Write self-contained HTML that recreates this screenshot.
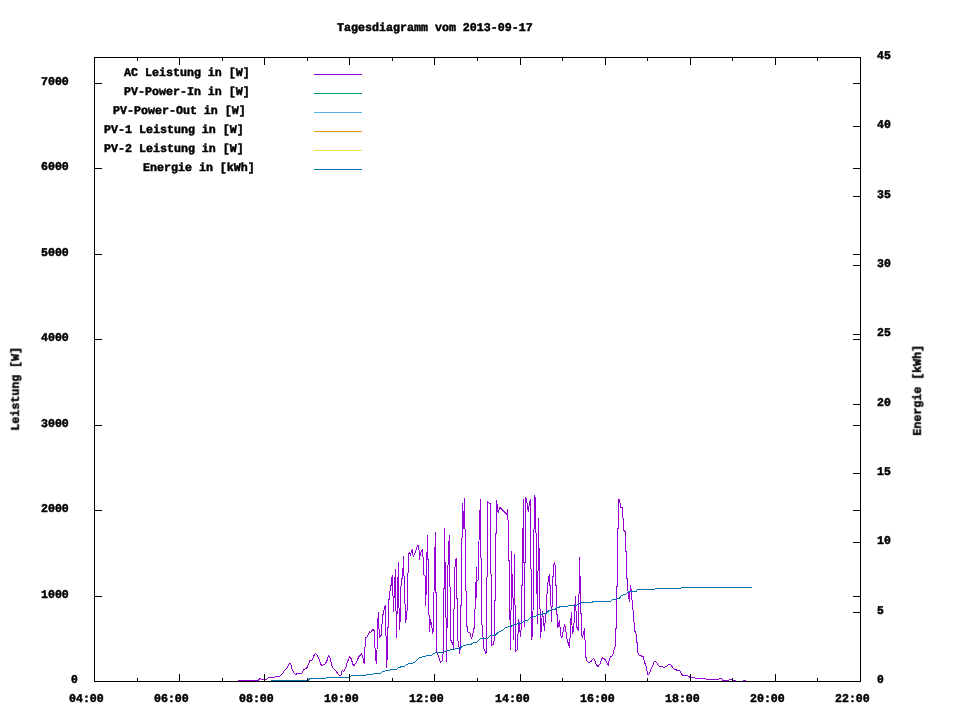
<!DOCTYPE html>
<html lang="de"><head><meta charset="utf-8"><title>Tagesdiagramm vom 2013-09-17</title>
<style>html,body{margin:0;padding:0;background:#fff;}body{width:960px;height:720px;overflow:hidden;}svg{display:block;}text{font-family:"Liberation Mono","DejaVu Sans Mono",monospace;font-weight:bold;font-size:11.8px;fill:#000;stroke:#000;stroke-width:0.5px;stroke-linejoin:round;white-space:pre;text-rendering:geometricPrecision;}.ax{stroke:#000;stroke-width:1;fill:none;shape-rendering:crispEdges;}.ln{fill:none;stroke-width:1;stroke-linejoin:bevel;shape-rendering:crispEdges;}</style></head><body>
<svg width="960" height="720" viewBox="0 0 960 720">
<rect x="0" y="0" width="960" height="720" fill="#fff"/>
<path class="ln" stroke="#9400d3" d="M238,680.5 258,680.5 260.4,678.3 261.3,679.5 266.5,679.5 268.5,677.5 274.5,677.4 275.5,676.5 279.8,676.5 282.5,673.8 284.2,670.7 286.7,668.3 289.3,663.5 290.5,663.5 292.1,669.2 294.6,673.8 295.8,674.6 297.3,673.4 301.7,673.3 302.1,672.9 303.75,669.6 306.7,668.2 308.3,664.6 309.6,661 312.1,660 314.2,655 315.4,653.5 316.7,654.6 318.75,658.3 320.8,664.2 321.8,665.4 324.6,664.2 326.7,661.7 328.3,655.7 329.6,656.7 330.8,660.8 332.1,666.7 335.8,670.8 338.75,674.8 340,675.7 341.25,674.6 342.1,670.8 343.75,671.25 345.4,668.75 347.5,661.7 349.6,656.5 351.25,658.75 352.9,664.6 354,665.7 356.25,662.5 358.75,656.7 361.5,653.75 362.5,655.8 363.75,661.7 364.3,664.4 364.8,651.7 365.4,638.3 367.5,636.25 369.4,631.9 371.25,632.1 372.5,629.4 374.2,630.5 374.6,646 375.7,650.8 376.1,664.4 377,650.5 377.5,625.2 378.5,612 378.75,625 379.6,637.5 381.5,635 381.8,628 382.5,615.4 383.75,613.3 384.2,608.5 385.5,605 385.5,635.4 386.6,636.25 386.5,667.5 387.5,653.3 387.5,628 388.75,627.5 388.75,610 389.2,592.5 390,591.7 390.4,585.8 391.25,585.4 391.5,579 392.5,575 393.4,611.5 395.4,569 396.4,637.5 398.4,562 399.3,629.6 400.6,616 400.8,591 401.3,579 402.5,578.3 402.5,568.3 403.3,567.5 403.4,556.25 404.6,595 405.8,622.5 407.5,605.8 407.7,573.3 408.3,572.5 408.5,554.2 409.4,552.4 410.4,555.4 412.3,549.3 413.3,556.7 414.6,553.75 415.8,550.4 417.1,547 418.3,545.2 419.2,551.7 419.6,559.6 420.4,553 422.3,549.3 422.9,556.8 423.75,557.5 424,575 425,575.8 425.9,606 426.4,559 426.5,553.3 427.5,552 427.5,535 427.6,559 428.5,559.5 428.6,600 429.5,631.7 430.5,619.3 431.7,625 432.5,633.5 433.5,630 433.75,603.75 434.75,556 435.4,532 436,592.5 436.4,651.4 437.7,654 440.6,662.7 442.25,660.6 443.1,652.7 443.4,600 443.5,589 444.4,588 444.4,527.8 444.5,562 445.5,562.5 445.5,617.7 446.4,618.5 446.4,661.8 446.6,628 447.5,627 447.5,565.5 448.5,564.4 448.75,545 449.5,534.9 449.6,586.7 450.6,587.5 450.6,639.75 451.8,642 453,645 453.5,649 453.5,609.5 454.5,608 454.5,567.5 455.4,566.9 455.6,561 456.3,558 456.5,598 457.5,598.5 457.5,640 458.5,642 459.6,653.5 460.4,647 460.6,606 461.4,605 461.5,538.5 462.4,537.5 462.5,502.8 463.5,528.7 464.4,498 464.6,528.5 465.6,529.5 465.6,590.8 466.6,591.5 466.6,626.4 467.7,627 467.7,632 469.75,632.7 470.6,635 471.4,638.5 472.7,635 473.5,629.3 474.5,628 474.5,609.3 475.6,608.5 475.6,582.5 476.4,581 476.5,567 476.6,598.3 476.7,581.5 477.6,580.5 478.4,579 478.6,541.2 479.5,540.5 479.6,510.5 480.5,509.5 480.6,499 480.7,557.5 481.6,558.5 481.5,624.75 482.5,625.5 483.1,639.3 483.5,648.5 485,651 486,653.5 486.4,650 486.5,577.5 487.4,576.5 487.5,501 488.75,503 490.6,503.25 490.6,573.75 491.6,574.5 491.6,645.6 493.5,644 494.3,639.3 494.6,601 495.5,600.5 495.4,533.75 496.5,533 496.5,500 498.1,513 500,507.5 506.9,514.4 507.5,509.4 507.75,520 508.75,520.6 508.75,560.4 509.6,560.5 509.6,619.6 510.4,620 510.4,649.6 510.6,620 511.4,600 511.4,551.25 511.6,574 512.4,575 512.5,597.5 513.4,598.5 513.4,640.4 513.6,603 514.4,602 514.5,553.75 514.6,600 515.5,610 515.5,651.7 517.5,649.6 517.6,634 518.5,633.75 518.5,619.2 519.5,625 520.4,636.7 521.5,625 521.7,586 522.5,585 522.5,529 523.4,528 523.4,499 523.6,562 524.4,563 524.5,626.7 524.6,563 525.4,562 525.4,497 526.5,499 527.5,506 528.3,511.7 529.4,503 530.4,499 530.5,568.5 531.4,569.5 531.6,597 531.7,639.6 532.5,634 533.3,597 533.5,529.5 534.5,528.5 534.5,495 535.5,499.5 535.5,532 536.3,533.5 536.5,593 537.4,594 537.5,624.2 537.6,571.5 538.4,570.5 538.5,518.3 538.6,548 539.4,549 539.5,607.5 540.6,610 540.6,637.5 542.5,610.8 544.5,631.25 545.4,616 546.5,610 546.7,594 547.6,593.75 547.7,582 548.6,581.7 548.75,577 549.5,574.2 549.8,585.4 550.7,585.8 550.9,602.5 551.5,621.7 552.2,601.7 552.4,577 553.3,576.7 553.5,567 554.5,562 555.4,566.7 555.6,585 556.5,585.4 556.7,614 557.5,615 557.7,628.3 559.6,620 560.4,633.75 561.7,638.3 564.6,624.2 565.8,630 566.7,638.3 569.6,647.5 569.6,638.3 570.7,637.9 570.7,621.7 571.6,612 571.9,623.3 572.5,634.2 573.75,628.3 574.6,611.7 575.4,596.25 575.6,610.8 576.6,611.25 576.7,626.7 578.3,630.6 578.5,594.5 579.4,593.5 579.4,557 579.6,575.5 580.4,576.5 580.5,613.75 581.5,613.75 581.5,634 582.5,637.5 583.75,631.7 584.6,628.3 584.8,640 585.6,640.4 585.6,655.8 586.7,660.4 588.75,662.5 591.25,661.25 593.5,658.3 595,661.25 596.25,665 597.9,666.5 600,663.75 601.25,660.4 602.5,657.3 605,659.6 607.1,662.9 608.3,665.4 609.2,659.6 610.4,657 612.3,655.8 613.3,653.75 614.2,649.2 615.4,645.4 615.7,629 616.5,628 616.5,587 617.5,586.7 617.5,528.75 618.4,528.5 618.4,500 619.6,499 620,503 620.8,503.5 620.8,507.3 622.5,507.5 622.7,518 623.5,518.3 623.75,530 624.6,531.7 625.6,532 625.6,551.7 626.5,551.7 626.5,578.75 627.5,578.75 627.5,590.8 628.3,591.25 628.75,597.5 629.5,601.7 630.4,585.4 631.25,590.4 631.5,599.6 632.5,600.4 633,610 634,621.7 635,631.7 635.8,632.5 636.7,639.2 637.5,647.5 637.9,652.5 639.2,655 643.3,656.8 644.6,662.5 646.25,666.7 647.5,674.2 649.2,674.2 650.8,669.2 652.9,665 654.3,661.5 656.7,662.3 658.3,665.4 659.6,666.4 662.5,666.4 664,667.5 666.25,666.4 668.75,664.3 670.8,664.3 672.1,666.7 674.2,669.2 677.1,670.2 680,670.6 680.8,672.5 682.5,675.4 687.5,675.4 690,677.5 694.6,677.5 695.8,678.4 705.4,678.4 706.7,679.4 718.75,679.4 719.6,678.4 721.7,678.4 722.9,680.4 728.75,680.4 729.6,679.4 732,679.4 733,680.4 735.8,680.4 736.5,681.5 742.8,681.5 743.3,680.4 745.8,680.4 746.5,681.5 752,681.5"/>
<path class="ln" stroke="#0072b2" d="M271,680.5 308.3,680.5 310,678.5 325.8,678.5 326.7,677.5 349.6,677.5 351.25,675.5 365.4,675.5 366.7,674.5 372.5,674.4 373.75,673.4 380.8,673.3 382.5,671.3 386.7,670.7 392,669.6 396.7,669.2 398.75,667.3 405,666.25 406.7,664.2 413.3,662.9 415.4,661.7 417.5,659.2 420,657.3 424.2,656.6 428.3,655.5 432.1,655 433.75,653.3 436.7,652.5 444.2,652.1 446.4,650.6 453.5,649.3 460.2,648.3 463.5,645.3 471,644.3 473.5,642.7 476.8,642.25 480.2,638.9 487.7,638.1 490.6,635.6 495.2,635.2 497.7,632.7 502.7,630.3 505.6,627.5 511,626.4 513.9,624.5 520.8,623.3 524.2,621.25 527.5,620.4 530.8,617.3 535.8,616.25 538.3,614.6 546.25,613.3 549.2,610.4 555.4,609.2 557.1,607.5 563.3,606.25 571.7,605.8 576.7,605.2 578.75,603.3 581.7,602.6 592.5,602.2 593.3,601.3 610.8,601.3 612.5,599.5 619.2,598.6 621.25,595.6 625,594.5 626.25,594 627.5,592.2 630.8,591.5 636.25,591.5 637.3,589.5 654.6,589.5 655.7,588.5 680.4,588.5 681.7,587.5 752,587.5"/>
<path class="ax" d="M94.5 57.5H860.5V681.5H94.5ZM94 596.5h8M861 596.5h-8M94 510.5h8M861 510.5h-8M94 425.5h8M861 425.5h-8M94 339.5h8M861 339.5h-8M94 254.5h8M861 254.5h-8M94 168.5h8M861 168.5h-8M94 83.5h8M861 83.5h-8M861 612.5h-8M861 542.5h-8M861 473.5h-8M861 404.5h-8M861 334.5h-8M861 265.5h-8M861 196.5h-8M861 126.5h-8M137.5 682v-4M137.5 57v4M179.5 682v-8M179.5 57v8M222.5 682v-4M222.5 57v4M264.5 682v-8M264.5 57v8M307.5 682v-4M307.5 57v4M349.5 682v-8M349.5 57v8M392.5 682v-4M392.5 57v4M434.5 682v-8M434.5 57v8M477.5 682v-4M477.5 57v4M520.5 682v-8M520.5 57v8M562.5 682v-4M562.5 57v4M605.5 682v-8M605.5 57v8M647.5 682v-4M647.5 57v4M690.5 682v-8M690.5 57v8M732.5 682v-4M732.5 57v4M775.5 682v-8M775.5 57v8M817.5 682v-4M817.5 57v4"/>
<g opacity="0.999">
<text x="337" y="31" textLength="195.8" lengthAdjust="spacingAndGlyphs">Tagesdiagramm vom 2013-09-17</text>
<text x="71" y="683" textLength="6.8" lengthAdjust="spacingAndGlyphs">0</text>
<text x="41" y="598" textLength="27.8" lengthAdjust="spacingAndGlyphs">1000</text>
<text x="41" y="512" textLength="27.8" lengthAdjust="spacingAndGlyphs">2000</text>
<text x="41" y="427" textLength="27.8" lengthAdjust="spacingAndGlyphs">3000</text>
<text x="41" y="341" textLength="27.8" lengthAdjust="spacingAndGlyphs">4000</text>
<text x="41" y="256" textLength="27.8" lengthAdjust="spacingAndGlyphs">5000</text>
<text x="41" y="170" textLength="27.8" lengthAdjust="spacingAndGlyphs">6000</text>
<text x="41" y="85" textLength="27.8" lengthAdjust="spacingAndGlyphs">7000</text>
<text x="877" y="683" textLength="6.8" lengthAdjust="spacingAndGlyphs">0</text>
<text x="877" y="614" textLength="6.8" lengthAdjust="spacingAndGlyphs">5</text>
<text x="877" y="544" textLength="13.8" lengthAdjust="spacingAndGlyphs">10</text>
<text x="877" y="475" textLength="13.8" lengthAdjust="spacingAndGlyphs">15</text>
<text x="877" y="406" textLength="13.8" lengthAdjust="spacingAndGlyphs">20</text>
<text x="877" y="336" textLength="13.8" lengthAdjust="spacingAndGlyphs">25</text>
<text x="877" y="267" textLength="13.8" lengthAdjust="spacingAndGlyphs">30</text>
<text x="877" y="198" textLength="13.8" lengthAdjust="spacingAndGlyphs">35</text>
<text x="877" y="128" textLength="13.8" lengthAdjust="spacingAndGlyphs">40</text>
<text x="877" y="59" textLength="13.8" lengthAdjust="spacingAndGlyphs">45</text>
<text x="69" y="702" textLength="34.8" lengthAdjust="spacingAndGlyphs">04:00</text>
<text x="154" y="702" textLength="34.8" lengthAdjust="spacingAndGlyphs">06:00</text>
<text x="239" y="702" textLength="34.8" lengthAdjust="spacingAndGlyphs">08:00</text>
<text x="324" y="702" textLength="34.8" lengthAdjust="spacingAndGlyphs">10:00</text>
<text x="409" y="702" textLength="34.8" lengthAdjust="spacingAndGlyphs">12:00</text>
<text x="495" y="702" textLength="34.8" lengthAdjust="spacingAndGlyphs">14:00</text>
<text x="580" y="702" textLength="34.8" lengthAdjust="spacingAndGlyphs">16:00</text>
<text x="665" y="702" textLength="34.8" lengthAdjust="spacingAndGlyphs">18:00</text>
<text x="750" y="702" textLength="34.8" lengthAdjust="spacingAndGlyphs">20:00</text>
<text x="835" y="702" textLength="34.8" lengthAdjust="spacingAndGlyphs">22:00</text>
<text x="18.5" y="430.7" textLength="83.8" lengthAdjust="spacingAndGlyphs" transform="rotate(-90 18.5 430.7)">Leistung [W]</text>
<text x="920.5" y="435.7" textLength="90.8" lengthAdjust="spacingAndGlyphs" transform="rotate(-90 920.5 435.7)">Energie [kWh]</text>
<text x="124" y="76" textLength="125.8" lengthAdjust="spacingAndGlyphs">AC Leistung in [W]</text>
<path class="ln" style="shape-rendering:crispEdges" stroke="#9400d3" d="M314 74.5H362"/>
<text x="124" y="95" textLength="125.8" lengthAdjust="spacingAndGlyphs">PV-Power-In in [W]</text>
<path class="ln" style="shape-rendering:crispEdges" stroke="#009e73" d="M314 93.5H362"/>
<text x="113" y="114" textLength="132.8" lengthAdjust="spacingAndGlyphs">PV-Power-Out in [W]</text>
<path class="ln" style="shape-rendering:crispEdges" stroke="#56b4e9" d="M314 112.5H362"/>
<text x="104" y="133" textLength="139.8" lengthAdjust="spacingAndGlyphs">PV-1 Leistung in [W]</text>
<path class="ln" style="shape-rendering:crispEdges" stroke="#e69f00" d="M314 131.5H362"/>
<text x="104" y="152" textLength="139.8" lengthAdjust="spacingAndGlyphs">PV-2 Leistung in [W]</text>
<path class="ln" style="shape-rendering:crispEdges" stroke="#f0e442" d="M314 150.5H362"/>
<text x="143" y="171" textLength="111.8" lengthAdjust="spacingAndGlyphs">Energie in [kWh]</text>
<path class="ln" style="shape-rendering:crispEdges" stroke="#0072b2" d="M314 169.5H362"/>
</g>
</svg></body></html>
